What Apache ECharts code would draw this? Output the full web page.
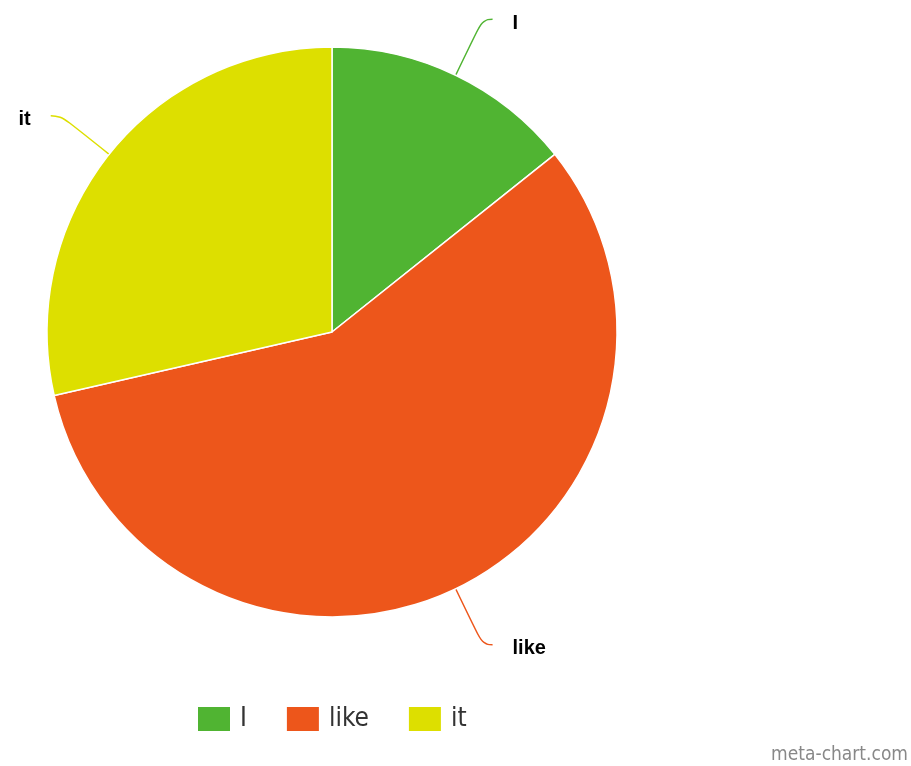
<!DOCTYPE html>
<html>
<head>
<meta charset="utf-8">
<script src="https://cdn.jsdelivr.net/npm/echarts@6/dist/echarts.min.js"></script>
<style>
  html, body { margin: 0; padding: 0; background: #fff; }
  #chart { width: 911px; height: 766px; }
</style>
</head>
<body>
<div id="chart"></div>
<script>
var categories = ['I', 'like', 'it'];
var values = [1, 4, 2];
var colors = ['#50B432', '#ED561B', '#DDDF00'];

var myChart = echarts.init(document.getElementById('chart'));

var pieData = [];
for (var i = 0; i < categories.length; i++) {
    pieData.push({ name: categories[i], value: values[i], itemStyle: { color: colors[i] } });
}

var option = {
    animation: false,
    legend: {
        data: categories,
        orient: 'horizontal',
        left: 193,
        top: 701,
        itemWidth: 37,
        itemHeight: 24,
        itemGap: 40,
        // square swatch with a little blank space on its right
        icon: 'path://M0,0H32V24H0Z M37,24L37,24',
        itemStyle: { borderWidth: 0 },
        textStyle: {
            fontFamily: 'DejaVu Sans Condensed',
            fontSize: 26,
            color: '#333'
        }
    },
    graphic: [
        {
            type: 'text',
            right: 3,
            bottom: 1,
            style: {
                text: 'meta-chart.com',
                fontFamily: 'DejaVu Sans Condensed',
                fontSize: 19,
                fill: '#888'
            }
        }
    ],
    series: [
        {
            type: 'pie',
            center: [332, 332],
            radius: [0, 285],
            startAngle: 90,
            clockwise: true,
            data: pieData,
            itemStyle: {
                borderColor: '#fff',
                borderWidth: 1.5
            },
            label: {
                show: true,
                formatter: '{b}',
                color: '#000',
                fontFamily: 'Liberation Sans',
                fontWeight: 'bold',
                fontSize: 20,
                distanceToLabelLine: 20
            },
            labelLayout: { dy: 4 },
            labelLine: {
                show: true,
                length: 62,
                length2: 10,
                smooth: 0.5,
                lineStyle: { width: 1.5 }
            }
        }
    ]
};
myChart.setOption(option);
</script>
</body>
</html>
